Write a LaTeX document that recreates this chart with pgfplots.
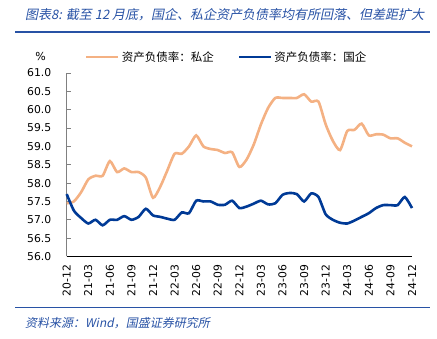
\documentclass[border=0pt]{standalone}
\usepackage{fontspec}
\setmainfont{DejaVu Sans}
\newfontfamily\cjk{Noto Sans CJK SC}
\newfontfamily\cjkit[FakeSlant=0.2]{Noto Sans CJK SC}
\usepackage{pgfplots}
\usepackage{pgfplotstable}
\pgfplotsset{compat=1.18}
\definecolor{pri}{RGB}{244,177,131}
\definecolor{soe}{RGB}{0,58,150}
\definecolor{hdr}{RGB}{40,82,165}
\definecolor{axgray}{RGB}{128,128,128}

\pgfplotstableread{
m pri soe
0 57.45 57.70
1 57.50 57.25
2 57.75 57.05
3 58.10 56.90
4 58.20 57.00
5 58.20 56.85
6 58.60 57.00
7 58.30 57.00
8 58.40 57.10
9 58.30 57.00
10 58.30 57.08
11 58.15 57.30
12 57.60 57.12
13 57.90 57.08
14 58.35 57.03
15 58.80 57.00
16 58.80 57.20
17 59.00 57.18
18 59.30 57.52
19 59.00 57.50
20 58.93 57.50
21 58.90 57.41
22 58.82 57.41
23 58.84 57.52
24 58.44 57.32
25 58.64 57.36
26 59.05 57.44
27 59.60 57.52
28 60.05 57.42
29 60.32 57.45
30 60.32 57.68
31 60.32 57.73
32 60.32 57.70
33 60.42 57.50
34 60.22 57.72
35 60.22 57.62
36 59.60 57.15
37 59.15 57.00
38 58.90 56.92
39 59.42 56.90
40 59.45 56.98
41 59.62 57.08
42 59.30 57.18
43 59.33 57.32
44 59.32 57.40
45 59.22 57.40
46 59.22 57.40
47 59.10 57.62
48 59.00 57.32
}\datatable

\begin{document}
\begin{tikzpicture}
\path[use as bounding box] (0bp,0bp) rectangle (437bp,339bp);
\node[anchor=base west, font=\cjkit\fontsize{13bp}{15bp}\selectfont, text=hdr, inner sep=0] at (25bp,319bp) {图表8: 截至 12 月底，国企、私企资产负债率均有所回落、但差距扩大};
\draw[hdr, line width=1.5bp] (15bp,307bp) -- (430bp,307bp);
\draw[hdr, line width=1.5bp] (15bp,31.5bp) -- (430bp,31.5bp);
\node[anchor=base west, font=\cjkit\fontsize{12bp}{14bp}\selectfont, text=hdr, inner sep=0] at (25bp,12bp) {资料来源：Wind，国盛证券研究所};
\node[font=\fontsize{11bp}{13bp}\selectfont, inner sep=0] at (40.5bp,283bp) {\%};

\begin{axis}[
  at={(66.7bp,82.5bp)}, anchor=south west,
  scale only axis, width=345.3bp, height=183.5bp,
  xmin=0, xmax=48, ymin=56, ymax=61,
  axis x line*=bottom, axis y line*=left,
  x axis line style={black, line width=0.8bp, -},
  y axis line style={axgray, line width=0.8bp, -},
  xtick={0,3,...,48},
  xticklabels={20-12,21-03,21-06,21-09,21-12,22-03,22-06,22-09,22-12,23-03,23-06,23-09,23-12,24-03,24-06,24-09,24-12},
  xtick style={draw=none},
  ytick={56,56.5,...,61},
  ytick style={axgray, line width=0.8bp},
  tick align=inside, major tick length=4bp,
  yticklabel={\pgfmathprintnumber[fixed,fixed zerofill,precision=1]{\tick}},
  /pgf/number format/assume math mode=true,
  ticklabel style={font=\fontsize{10.8bp}{13bp}\selectfont},
  xticklabel style={rotate=90, anchor=east},
  xticklabel shift=5bp,
  yticklabel shift=12bp,
  legend style={draw=none, fill=none, inner sep=0pt, at={(0.053,1.087)}, anchor=west,
    font=\cjk\fontsize{11.5bp}{13bp}\selectfont,
    /tikz/every even column/.append style={column sep=22bp}},
  legend columns=2,
  legend image code/.code={\draw[#1, line width=2.6bp] (0,0) -- (32bp,0);},
  clip=false,
]
\addplot[pri, line width=2.6bp, smooth, tension=0.4] table[x=m, y=pri] {\datatable};
\addlegendentry{资产负债率：私企}
\addplot[soe, line width=2.6bp, smooth, tension=0.4] table[x=m, y=soe] {\datatable};
\addlegendentry{资产负债率：国企}
\end{axis}
\end{tikzpicture}
\end{document}
